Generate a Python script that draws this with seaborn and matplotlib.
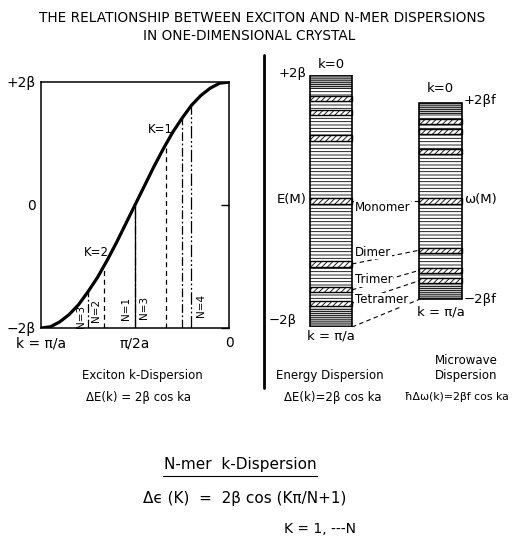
import matplotlib
matplotlib.use('Agg')
import matplotlib.pyplot as plt
from matplotlib.lines import Line2D
import pandas as pd
import seaborn as sns

# exciton dispersion (k in pi/a, energy in beta)
k_curve = [0.0, 0.05, 0.1, 0.15, 0.2, 0.25, 0.3, 0.35, 0.4, 0.45, 0.5,
           0.55, 0.6, 0.65, 0.7, 0.75, 0.8, 0.85, 0.9, 0.95, 1.0]
e_curve = [2.0, 1.98, 1.90, 1.78, 1.62, 1.41, 1.18, 0.91, 0.62, 0.31, 0.0,
           -0.31, -0.62, -0.91, -1.18, -1.41, -1.62, -1.78, -1.90, -1.98, -2.0]

# vertical N-mer lines dropped from the curve
nmer_k = [0.2, 0.25, 1 / 3, 0.5, 0.5, 2 / 3, 0.75]
nmer_e = [1.62, 1.41, 1.0, 0.0, 0.0, -1.0, -1.41]
nmer_n = [4, 3, 2, 1, 3, 2, 3]

n_labels = ['N=3', 'N=2', 'N=1', 'N=3', 'N=4']
n_label_k = [0.787, 0.707, 0.548, 0.452, 0.149]
n_label_e = [-1.82, -1.72, -1.69, -1.66, -1.63]

# right panel: band edges and N-mer levels (beta), microwave scale factor f
columns = ['Energy', 'Microwave']
col_scale = [1.0, 0.78]
band_levels = [1.62, 1.41, 1.0, 0.0, -1.0, -1.41, -1.62]
connect_levels = [0.0, -1.0, -1.41, -1.62, -2.0]
level_names = ['Monomer', 'Dimer', 'Trimer', 'Tetramer']
level_name_y = [-0.11, -0.81, -1.25, -1.57]

sns.set_style('white')
plt.rcParams['font.family'] = ['DejaVu Sans']
plt.rcParams['text.color'] = 'black'
plt.rcParams['xtick.color'] = 'black'
plt.rcParams['ytick.color'] = 'black'
plt.rcParams['hatch.linewidth'] = 0.6
plt.rcParams['hatch.color'] = 'black'

W, H = 513, 536
fig = plt.figure(figsize=(W / 100, H / 100), dpi=100)


def fx(px):
    return px / W


def fy(py):
    return 1 - py / H


# ---- left panel: exciton k-dispersion
ax1 = fig.add_axes([fx(41), fy(328), fx(229) - fx(41), fy(82) - fy(328)])
curve = pd.DataFrame({'k': k_curve, 'E': e_curve})
sns.lineplot(data=curve, x='k', y='E', ax=ax1, color='black', lw=2.3)
styles = {1: '-', 2: (0, (4, 3)), 3: (0, (7, 2, 1.5, 2)), 4: (0, (10, 2, 1.5, 2, 1.5, 2))}
for k, e, n in zip(nmer_k, nmer_e, nmer_n):
    ax1.vlines(k, -2, e, colors='black', linestyles=styles[n], lw=0.9)
for t, k, e in zip(n_labels, n_label_k, n_label_e):
    ax1.text(k, e, t, rotation=90, ha='center', va='center', fontsize=7.5)
ax1.text(0.367, 1.22, 'K=1', ha='center', va='center', fontsize=8.5)
ax1.text(0.707, -0.78, 'K=2', ha='center', va='center', fontsize=8.5)
ax1.set_xlim(1, 0)
ax1.set_ylim(-2, 2)
ax1.set_xticks([1, 0.5, 0], ['k = π/a', 'π/2a', '0'])
ax1.set_yticks([-2, 0, 2], ['−2β', '0', '+2β'])
ax1.tick_params(axis='x', length=0, pad=6, labelsize=10)
ax1.tick_params(axis='y', direction='in', length=6, width=1, right=True,
                pad=4, labelsize=10)
ax1.set_xlabel('')
ax1.set_ylabel('')
for s in ax1.spines.values():
    s.set_linewidth(1.1)
    s.set_color('black')

# ---- right panel: energy and microwave columns
ax2 = fig.add_axes([fx(264), fy(327), 1 - fx(264), fy(75) - fy(327)])
ax2.set_xlim(-0.612, 1.662)
ax2.set_ylim(-2, 2)
ax2.axis('off')
bw = 0.384
xs = list(range(len(columns)))
for x, f in zip(xs, col_scale):
    ax2.bar(x, 4 * f, bottom=-2 * f, width=bw, facecolor='white',
            edgecolor='black', hatch='-----', lw=0)
    # denser levels near the band edges
    ax2.bar(x, 0.22 * f, bottom=1.78 * f, width=bw, facecolor='0.75',
            edgecolor='black', hatch='--------', lw=0)
    ax2.bar(x, 0.3 * f, bottom=-2 * f, width=bw, facecolor='0.8',
            edgecolor='black', hatch='--------', lw=0)
    for lv in band_levels:
        ax2.bar(x, 0.08, bottom=lv * f - 0.04, width=bw, facecolor='white',
                edgecolor='black', hatch='//////', lw=1.0)
    ax2.bar(x, 4 * f, bottom=-2 * f, width=bw, fill=False,
            edgecolor='black', lw=1.2)

for lv in connect_levels:
    ax2.plot([bw / 2, 1 - bw / 2], [lv, lv * col_scale[1]], color='black',
             lw=0.8, ls=(0, (4, 3)))

for t, y in zip(level_names, level_name_y):
    ax2.text(0.219, y, t, ha='left', va='center', fontsize=8.5,
             bbox=dict(facecolor='white', edgecolor='none', pad=0.5))

fs = 9.5
ax2.text(-0.22, 2.03, '+2β', ha='right', va='center', fontsize=fs)
ax2.text(0, 2.17, 'k=0', ha='center', va='center', fontsize=fs)
ax2.text(-0.22, 0.02, 'E(M)', ha='right', va='center', fontsize=fs)
ax2.text(-0.31, -1.89, '−2β', ha='right', va='center', fontsize=fs)
ax2.text(0, -2.15, 'k = π/a', ha='center', va='center', fontsize=fs)
ax2.text(1.0, 1.78, 'k=0', ha='center', va='center', fontsize=fs)
ax2.text(1.214, 1.6, '+2βf', ha='left', va='center', fontsize=fs)
ax2.text(1.214, 0.02, 'ω(M)', ha='left', va='center', fontsize=fs)
ax2.text(1.214, -1.57, '−2βf', ha='left', va='center', fontsize=fs)
ax2.text(1.0, -1.76, 'k = π/a', ha='center', va='center', fontsize=fs)

# ---- separator, titles and captions
fig.add_artist(Line2D([fx(264), fx(264)], [fy(55), fy(388)], color='black', lw=2))
fig.text(fx(262), fy(18), 'THE RELATIONSHIP BETWEEN EXCITON AND N-MER DISPERSIONS',
         ha='center', va='center', fontsize=9.8)
fig.text(fx(249), fy(36), 'IN ONE-DIMENSIONAL CRYSTAL', ha='center', va='center',
         fontsize=9.8)

cap = 8.5
fig.text(fx(142), fy(375), 'Exciton k-Dispersion', ha='center', va='center', fontsize=cap)
fig.text(fx(138), fy(397), 'ΔE(k) = 2β cos ka', ha='center', va='center', fontsize=cap)
fig.text(fx(330), fy(376), 'Energy Dispersion', ha='center', va='center', fontsize=cap)
fig.text(fx(466), fy(360), 'Microwave', ha='center', va='center', fontsize=cap)
fig.text(fx(466), fy(376), 'Dispersion', ha='center', va='center', fontsize=cap)
fig.text(fx(333), fy(397), 'ΔE(k)=2β cos ka', ha='center', va='center', fontsize=cap)
fig.text(fx(457), fy(397), 'ħΔω(k)=2βf cos ka', ha='center', va='center', fontsize=7.8)

fig.text(fx(240), fy(465), 'N-mer  k-Dispersion', ha='center', va='center', fontsize=11)
fig.add_artist(Line2D([fx(163), fx(317)], [fy(476), fy(476)], color='black', lw=0.8))
fig.text(fx(245), fy(499), 'Δϵ (K)  =  2β cos (Kπ/N+1)', ha='center', va='center',
         fontsize=11)
fig.text(fx(320), fy(529), 'K = 1, ---N', ha='center', va='center', fontsize=10)

fig.savefig('out.png', dpi=100)
